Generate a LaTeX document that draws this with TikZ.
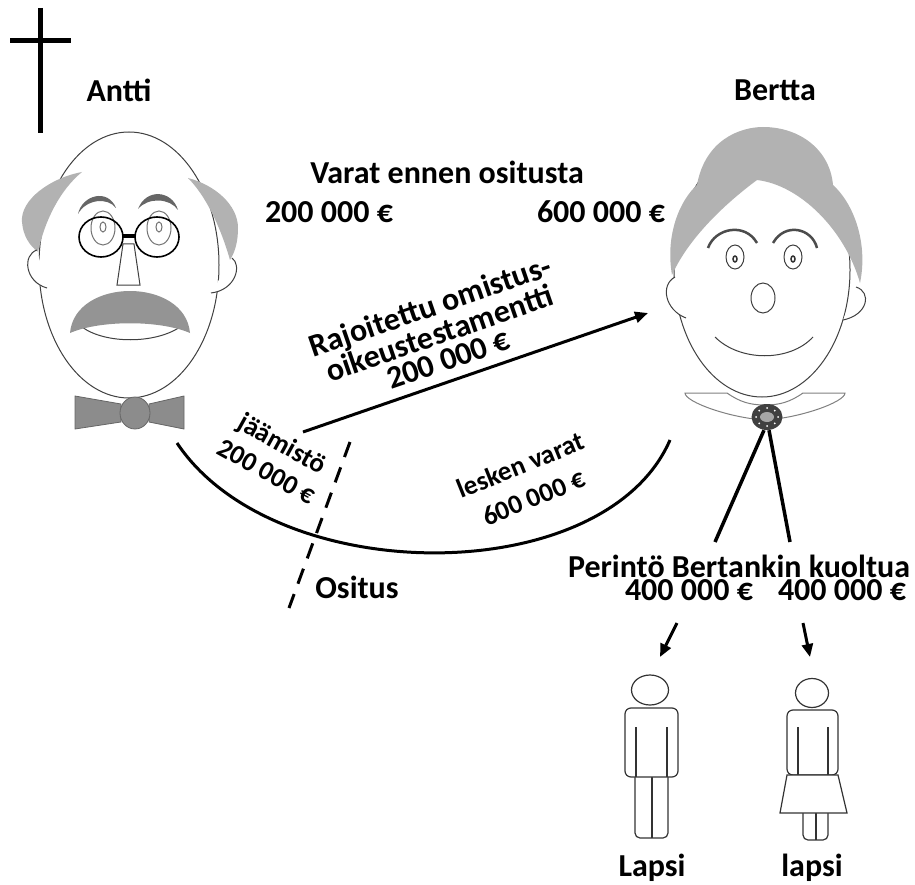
\documentclass[tikz,border=0pt]{standalone}
\usepackage{fontspec}
\setmainfont{Carlito}
\usetikzlibrary{arrows.meta,shapes.geometric,calc}
\begin{document}
\begin{tikzpicture}[x=1pt,y=-1pt,
  lbl/.style={font=\fontsize{32}{34}\selectfont\bfseries, inner sep=0pt},
  sml/.style={font=\fontsize{27}{32}\selectfont\bfseries, inner sep=0pt, align=center},
  outl/.style={draw=black!75, line width=1pt},
  conn/.style={line width=3pt},
  arr/.style={line width=3pt, -{Triangle[length=13pt,width=11pt]}},
  hairA/.style={fill=black!30},
  hairB/.style={fill=black!30},
  brow/.style={fill=black!60},
  tie/.style={fill=black!45, draw=black!60, line width=0.8pt},
  kid/.style={draw=black!80, line width=1.2pt, fill=white},
]
\useasboundingbox (0,0) rectangle (915,885);
% ---------- cross ----------
\draw[line width=5pt] (40,8) -- (40,133);
\draw[line width=5pt] (10,41) -- (71,41);
% ---------- Antti ----------
\draw[outl, fill=white] (129,265) ellipse [x radius=90pt, y radius=133pt];
\fill[hairA] (82,172) .. controls (50,178) and (20,200) .. (22,222) .. controls (23,236) and (30,246) .. (38,252) .. controls (45,220) and (60,190) .. (82,172) -- cycle;
\fill[hairA] (188,178) .. controls (215,185) and (238,205) .. (238,228) .. controls (238,242) and (235,252) .. (230,260) .. controls (220,225) and (205,195) .. (188,178) -- cycle;
\draw[outl, fill=white] (37,250) .. controls (22,255) and (25,282) .. (47,288);
\draw[outl, fill=white] (232,258) .. controls (242,265) and (236,290) .. (211,293);
\fill[brow] (78,214) .. controls (82,195) and (108,188) .. (116,208) .. controls (108,197) and (86,199) .. (78,214) -- cycle;
\fill[brow] (138,209) .. controls (146,188) and (172,190) .. (178,210) .. controls (170,198) and (148,197) .. (138,209) -- cycle;
\draw[outl, draw=black!55] (103,228) ellipse [x radius=12pt, y radius=17pt];
\draw[outl, draw=black!55] (103,227) ellipse [x radius=3pt, y radius=5pt];
\draw[outl, draw=black!55] (159,228) ellipse [x radius=12pt, y radius=17pt];
\draw[outl, draw=black!55] (159,227) ellipse [x radius=3pt, y radius=5pt];
\draw[outl, fill=white] (123,244) -- (134,244) -- (140,285) -- (117,285) -- cycle;
\draw[black, line width=1.6pt] (101,237) ellipse [x radius=22pt, y radius=20pt];
\draw[black, line width=1.6pt] (157,237) ellipse [x radius=22pt, y radius=20pt];
\draw[black, line width=4pt] (123,236) -- (135,236);
\draw[outl] (82,327) .. controls (105,344) and (155,344) .. (180,327);
\fill[black!42] (70,333) .. controls (75,277) and (185,277) .. (190,333) .. controls (160,320) and (100,320) .. (70,333) -- cycle;
\draw[tie] (75,396) -- (121,404) -- (121,422) -- (75,429) -- cycle;
\draw[tie] (149,404) -- (184,396) -- (184,429) -- (149,422) -- cycle;
\draw[tie] (135,413) ellipse [x radius=15pt, y radius=16pt];
% ---------- Bertta ----------
\draw[outl, fill=white] (762,270) ellipse [x radius=88pt, y radius=127pt];
\draw[outl, fill=white] (675,277) .. controls (660,285) and (665,310) .. (686,318);
\draw[outl, fill=white] (856,287) .. controls (872,292) and (868,315) .. (843,320);
\fill[hairB] (672,275) .. controls (665,235) and (680,200) .. (697,185) .. controls (705,140) and (740,127) .. (763,127) .. controls (800,127) and (830,150) .. (833,185) .. controls (855,205) and (868,245) .. (860,283) .. controls (845,230) and (800,185) .. (757,180) .. controls (730,200) and (690,235) .. (672,275) -- cycle;
\draw[black!70, line width=2.5pt] (708,248) .. controls (715,228) and (745,222) .. (757,243);
\draw[black!70, line width=2.5pt] (773,243) .. controls (785,222) and (812,228) .. (817,248);
\draw[outl] (735,257) ellipse [x radius=9pt, y radius=12pt];
\draw[black!80, line width=1.5pt] (735,259) ellipse [x radius=2pt, y radius=3pt];
\draw[outl] (793,257) ellipse [x radius=9pt, y radius=12pt];
\draw[black!80, line width=1.5pt] (793,259) ellipse [x radius=2pt, y radius=3pt];
\draw[outl] (763,298) ellipse [x radius=12pt, y radius=15pt];
\draw[outl] (715,337) .. controls (740,362) and (790,362) .. (813,337);
\draw[outl, draw=black!50, fill=white] (685,393) -- (727,393) .. controls (740,402) and (750,405) .. (765,405) .. controls (780,405) and (790,402) .. (803,393) -- (845,393) .. controls (845,402) and (800,418) .. (765,420) .. controls (730,418) and (685,402) .. (685,393) -- cycle;
\node[ellipse, minimum width=31pt, minimum height=26pt, inner sep=0pt, fill=black!75] (brooch) at (767,417) {};
\fill[black!35] (767,417) ellipse [x radius=7pt, y radius=5pt];
\foreach \a in {0,45,...,315} \fill[white] ($(767,417)+(\a:11pt and 9pt)$) circle [radius=1pt];
% ---------- texts ----------
\node[lbl] (antti) at (119,90) {Antti};
\node[lbl] (bertta) at (775,90) {Bertta};
\node[lbl] (varat) at (447,172) {Varat ennen ositusta};
\node[lbl] (va) at (329,212) {200 000 €};
\node[lbl] (vb) at (601,212) {600 000 €};
\node[inner sep=0pt, align=center, rotate=19, font=\fontsize{32}{27}\selectfont\bfseries] (raj) at (439,332) {Rajoitettu omistus-\\oikeustestamentti\\200 000 €};
\node[sml, rotate=-29] (jaam) at (275,457) {jäämistö\\200 000 €};
\node[sml, font=\fontsize{27}{35}\selectfont\bfseries, rotate=22] (lesk) at (527,481) {lesken varat\\600 000 €};
\node[lbl] (ositus) at (357,587) {Ositus};
\node[lbl] (perinto) at (739,566) {Perintö Bertankin kuoltua};
\node[lbl] (m1) at (689,590) {400 000 €};
\node[lbl] (m2) at (842,590) {400 000 €};
\node[lbl] (l1) at (652,868) {Lapsi};
\node[lbl] (l2) at (812,868) {lapsi};
% ---------- connectors ----------
\coordinate (rs) at (303,432);
\coordinate (re) at (648,313);
\draw[arr] (rs) -- (re);
\coordinate (arcL) at (177,443);
\coordinate (arcR) at (670,440);
\draw[conn] (arcL) .. controls (275,590) and (605,590) .. (arcR);
\coordinate (dTop) at (350,442);
\coordinate (dBot) at (289,608);
\draw[conn, dash pattern=on 16pt off 11pt] (dTop) -- (dBot);
\coordinate (pL) at (715,542);
\coordinate (pR) at (790,542);
\draw[line width=3.5pt] ([xshift=-3pt]brooch.south) -- (pL);
\draw[line width=3.5pt] ([xshift=2pt]brooch.south) -- (pR);
\coordinate (a1s) at (677,623);
\coordinate (a1e) at (660,657);
\coordinate (a2s) at (803,623);
\coordinate (a2e) at (810,657);
\draw[arr] (a1s) -- (a1e);
\draw[arr] (a2s) -- (a2e);
% ---------- children ----------
\draw[kid, rounded corners=5pt] (635,770) -- (635,838) -- (668,838) -- (668,770);
\draw[kid] (652,777) -- (652,838);
\draw[kid, rounded corners=6pt] (625,708) rectangle (678,777);
\draw[kid] (636,727) -- (636,777);
\draw[kid] (667,727) -- (667,777);
\node[ellipse, draw=black!80, line width=1.2pt, minimum width=37pt, minimum height=30pt, inner sep=0pt] (boyhead) at (650,690) {};
\draw[kid, rounded corners=5pt] (803,808) -- (803,840) -- (828,840) -- (828,808);
\draw[kid] (816,813) -- (816,840);
\draw[kid, rounded corners=6pt] (787,710) rectangle (838,775);
\draw[kid] (798,727) -- (798,775);
\draw[kid] (828,727) -- (828,775);
\draw[kid] (787,775) -- (838,775) -- (847,813) -- (780,813) -- cycle;
\node[ellipse, draw=black!80, line width=1.2pt, minimum width=33pt, minimum height=29pt, inner sep=0pt] (girlhead) at (812,693) {};
\end{tikzpicture}
\end{document}
